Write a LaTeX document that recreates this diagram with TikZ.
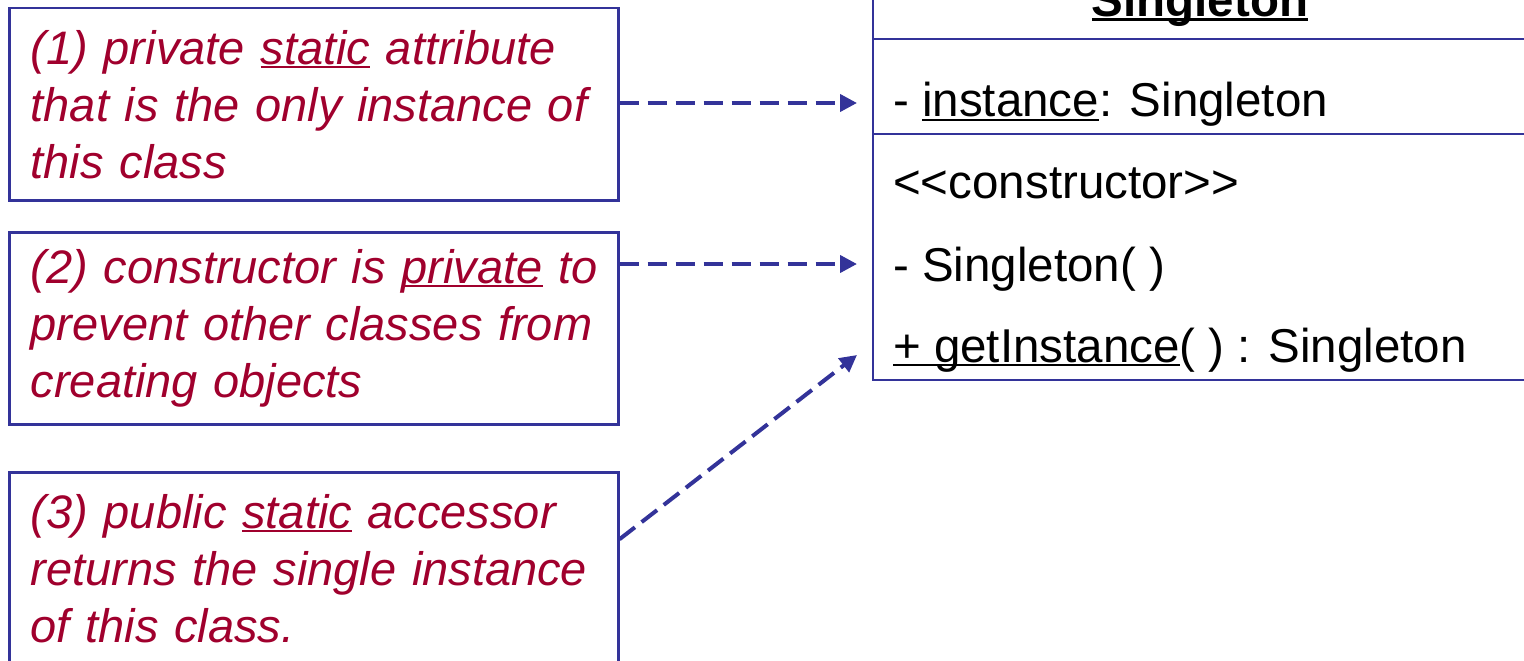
\documentclass[tikz,border=0pt]{standalone}
\usepackage{fontspec}
\setmainfont{Liberation Sans}
\usetikzlibrary{arrows.meta}
\definecolor{umlblue}{RGB}{51,51,153}
\definecolor{notered}{RGB}{160,0,45}
\newcommand{\ulword}[1]{\setbox0=\hbox{#1}\rlap{\rule[-4pt]{\wd0}{2.5pt}}\box0\relax}

\begin{document}
\begin{tikzpicture}[x=1pt,y=-1pt,
	note/.style={draw=umlblue,line width=2.5pt,anchor=north west,text width=566pt,inner xsep=21.5pt,minimum height=192pt,align=left,text=notered,font=\fontsize{47}{57}\selectfont\itshape},
	member/.style={anchor=base west,inner sep=0pt,font=\fontsize{47.5}{57}\selectfont},
	umlbox/.style={draw=umlblue,line width=2.5pt},
	link/.style={umlblue,line width=4pt,dash pattern=on 19.5pt off 8.5pt,-{Triangle[length=17pt,width=17pt]}}]
	\useasboundingbox (0,0) rectangle (1524,661);

	\draw[umlbox] (873,-60) rectangle (1570,380);
	\draw[umlbox] (873,39) -- (1570,39) (873,134) -- (1570,134);
	\node[member,anchor=base,font=\fontsize{47.5}{57}\selectfont\bfseries] (cname) at (1200,17) {\ulword{Singleton}};
	\node[member] (attr) at (893,117) {- \ulword{instance}: Singleton};
	\node[member] (stereo) at (893,198) {<{}<constructor>{}>};
	\node[member] (ctor) at (893,281) {- Singleton( )};
	\node[member] (getter) at (893,362) {\ulword{+ getInstance}( ) : Singleton};

	\node[note] (n1) at (8,7) {\mbox{(1) private \ulword{static} attribute}\\\mbox{that is the only instance of}\\this class};
	\node[note] (n2) at (8,231) {\mbox{(2) constructor is \ulword{private} to}\\\mbox{prevent other classes from}\\creating objects};
	\node[note] (n3) at (8,471) {\mbox{(3) public \ulword{static} accessor}\\\mbox{returns the single instance}\\of this class.};

	\coordinate (t1) at (857,103);
	\coordinate (t2) at (857,264);
	\coordinate (t3) at (857,355);
	\draw[link] (n1.east |- t1) -- (t1);
	\draw[link] (n2.east |- t2) -- (t2);
	\draw[link] ([yshift=29pt]n3.east) -- (t3);
\end{tikzpicture}
\end{document}
